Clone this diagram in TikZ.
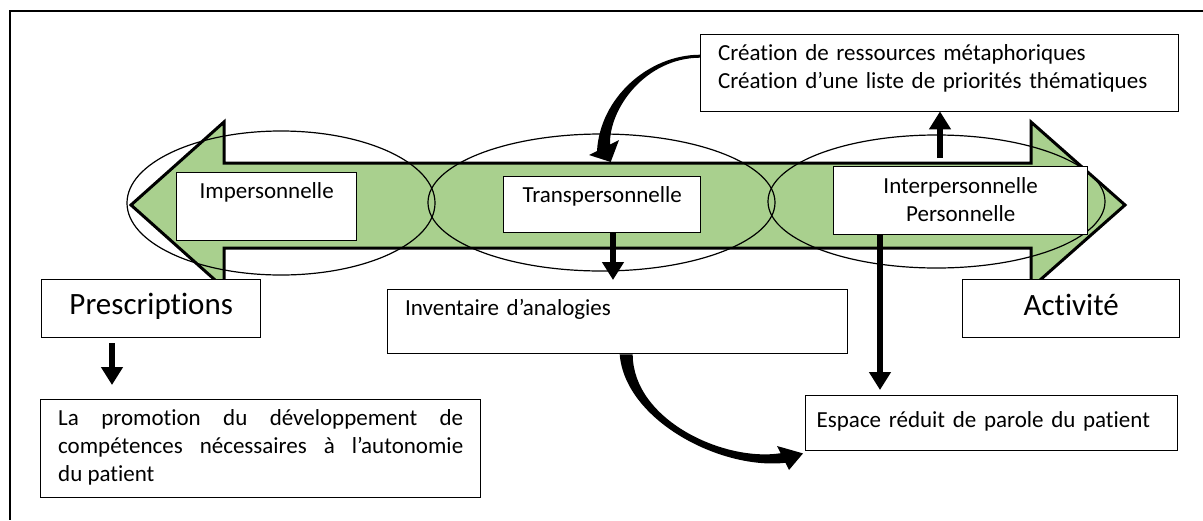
\documentclass[tikz,border=0pt]{standalone}
\usepackage{fontspec}
\setmainfont{Carlito}[Ligatures={NoCommon}]
\usetikzlibrary{arrows.meta}
\definecolor{arrowgreen}{RGB}{169,208,142}
\newcommand\regsize{\fontsize{23pt}{27.7pt}\selectfont}
\newcommand\bigsize{\fontsize{31pt}{37pt}\selectfont}
\hyphenpenalty=10000
\exhyphenpenalty=10000
\begin{document}
\begin{tikzpicture}[x=1pt,y=-1pt,
  tbox/.style={draw, fill=white, line width=1.4pt, anchor=north west,
    inner ysep=0pt, font=\regsize},
  ring/.style={draw, line width=1.2pt},
  blk/.style={line width=6pt, -{Triangle[length=18pt,width=21pt]}},
  ]
\useasboundingbox (0,0) rectangle (1203,520);

% outer frame
\draw[line width=2pt] (1203,11) -- (10,11) -- (10,520);

% double-headed block arrow
\draw[line width=3pt, fill=arrowgreen, line join=miter, miter limit=3]
  (131,205) -- (224,122) -- (224,163) -- (1031,163) -- (1031,122)
  -- (1125,205) -- (1031,288) -- (1031,248) -- (224,248) -- (224,288) -- cycle;

% three overlapping zones
\draw[ring] (281,203) ellipse [x radius=154pt, y radius=72pt];
\draw[ring] (601.5,202.5) ellipse [x radius=173.5pt, y radius=68.5pt];
\draw[ring] (936.5,201.5) ellipse [x radius=168.5pt, y radius=66.5pt];

% text boxes
\node[tbox, text width=170pt, inner xsep=5pt, text height=26pt, text depth=42pt, align=center]
  (imp) at (176,172) {Impersonnelle};
\node[tbox, text width=187pt, inner xsep=5pt, text height=26pt, text depth=30pt, align=center]
  (trans) at (503,176) {Transpersonnelle};
\node[tbox, text width=244pt, inner xsep=5pt, text height=27pt, text depth=41pt, align=center]
  (inter) at (833,166) {Interpersonnelle\\Personnelle};
\node[tbox, text width=443pt, inner xsep=17.5pt, text height=26pt, text depth=51pt, align=left]
  (cre) at (700,34) {Création de ressources métaphoriques\\Création d’une liste de priorités thématiques};
\node[tbox, font=\bigsize, text width=209pt, inner xsep=5pt, text height=35pt, text depth=23pt, align=center]
  (presc) at (41,279) {Prescriptions};
\node[tbox, font=\bigsize, text width=207pt, inner xsep=5pt, text height=36pt, text depth=22pt, align=center]
  (act) at (962,279) {Activité};
\node[tbox, text width=425pt, inner xsep=17.5pt, text height=26pt, text depth=38pt, align=left]
  (inv) at (387,289) {Inventaire d’analogies};
\node[tbox, text width=350pt, inner xsep=11pt, text height=32pt, text depth=23pt, align=left]
  (esp) at (805,395) {Espace réduit de parole du patient};
\node[tbox, text width=405pt, inner xsep=17.5pt, text height=26pt, text depth=72pt, align=justify]
  (promo) at (40,399) {La promotion du développement de\linebreak
  compétences nécessaires à l’autonomie\linebreak du patient};

% curved tapered arrow: resources box -> transpersonal zone
\fill ([shift={(0,-18.5)}]cre.west) .. controls (648,55) and (600,98) .. (597,151)
  -- (589,155) -- ([shift={(8.5,-14)}]trans.north) -- (619,140) -- (610,144.5)
  .. controls (609,108) and (646,58) .. ([shift={(0,-15.5)}]cre.west) -- cycle;

% curved tapered arrow: analogies box -> reduced speech space
\fill ([shift={(2,0)}]inv.south) .. controls (625,420) and (720,470) .. (785.4,462.8)
  -- (789,470) -- ([shift={(-2,2)}]esp.south west) -- (777,446) -- (780.6,453.2)
  .. controls (724,462) and (633,420) .. ([shift={(15,0)}]inv.south) -- cycle;

% straight block connectors
\coordinate (xp) at (112,0);
\coordinate (xt) at (613,0);
\coordinate (xu) at (940,0);
\coordinate (xd) at (880,0);
\draw[blk, shorten <=5pt, shorten >=14pt] (presc.south -| xp) -- (promo.north -| xp);
\draw[blk, shorten >=9pt] (trans.south -| xt) -- (inv.north -| xt);
\draw[blk, shorten <=8pt, shorten >=-1pt] (inter.north -| xu) -- (cre.south -| xu);
\draw[blk, shorten >=5pt] (inter.south -| xd) -- (esp.north -| xd);
\end{tikzpicture}
\end{document}
